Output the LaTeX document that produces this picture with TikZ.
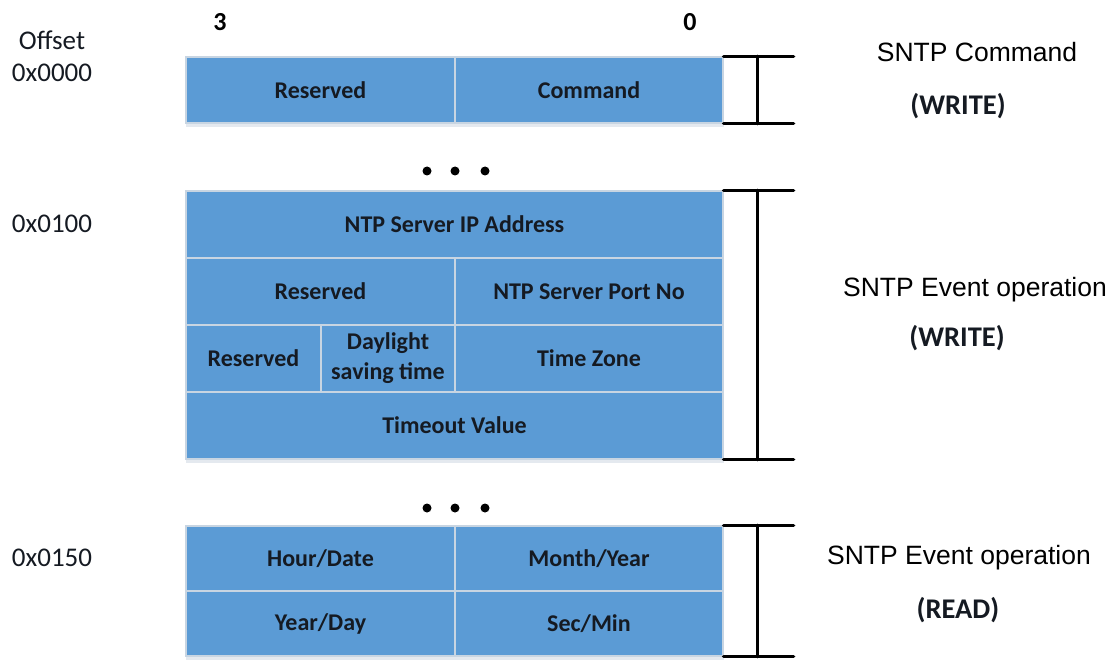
\documentclass[tikz,border=0pt]{standalone}
\usepackage{fontspec}
\setmainfont{Carlito}
\newfontfamily\arialfont{Liberation Sans}
\usepackage{tikz}
\usetikzlibrary{positioning}
\definecolor{regblue}{HTML}{5B9BD5}
\definecolor{regline}{HTML}{C8D5E2}
\definecolor{regshade}{HTML}{E4E9EF}
\definecolor{regtext}{HTML}{151A22}

\tikzset{
  regcell/.style={fill=regblue, draw=regline, line width=1.2pt, inner sep=0pt,
    minimum height=66pt, align=center, text=regtext,
    font=\bfseries\fontsize{24}{30}\selectfont},
  offs/.style={font=\fontsize{27}{29}\selectfont, text=regtext},
  bitno/.style={font=\bfseries\fontsize{26}{28}\selectfont, text=black},
  sidelbl/.style={font=\arialfont\fontsize{26.5}{29}\selectfont, text=black},
  sidemode/.style={font=\bfseries\fontsize{28.5}{30}\selectfont, text=regtext},
  bracket/.style={black, line width=3.5pt, line cap=round}
}

\begin{document}
\begin{tikzpicture}[x=1pt, y=-1pt]
\useasboundingbox (0,0) rectangle (1110,660);
% bit numbers and offsets
\node[bitno] (bit3) at (220,22) {3};
\node[bitno] (bit0) at (690,22) {0};
\node[offs] (offhead) at (52,40) {Offset};
\node[offs] (off0) at (52,73) {0x0000};
\node[offs] (off1) at (52,224) {0x0100};
\node[offs] (off2) at (52,558) {0x0150};
% faint shadows under the blocks
\fill[regshade] (186,60) rectangle (724,127);
\fill[regshade] (186,194) rectangle (724,463);
\fill[regshade] (186,529) rectangle (724,660);
% command register
\node[regcell, minimum width=269pt] (res0) at (320.5,90) {Reserved};
\node[regcell, minimum width=268pt] (cmd) at (589,90) {Command};
% event write registers
\node[regcell, minimum height=67pt, minimum width=537pt] (ipaddr) at (454.5,224.5) {NTP Server IP Address};
\node[regcell, minimum height=67pt, minimum width=269pt] (res1) at (320.5,291.5) {Reserved};
\node[regcell, minimum height=67pt, minimum width=268pt] (port) at (589,291.5) {NTP Server Port No};
\node[regcell, minimum height=67pt, minimum width=135pt] (res2) at (253.5,358.5) {Reserved};
\node[regcell, minimum height=67pt, minimum width=134pt] (dst) at (388,358.5) {Daylight\\saving time};
\node[regcell, minimum height=67pt, minimum width=268pt] (tzone) at (589,358.5) {Time Zone};
\node[regcell, minimum height=67pt, minimum width=537pt] (timeout) at (454.5,425.5) {Timeout Value};
% event read registers
\node[regcell, minimum height=65pt, minimum width=269pt] (hour) at (320.5,558.5) {Hour/Date};
\node[regcell, minimum height=65pt, minimum width=268pt] (month) at (589,558.5) {Month/Year};
\node[regcell, minimum height=65pt, minimum width=269pt] (yday) at (320.5,623.5) {Year/Day};
\node[regcell, minimum height=65pt, minimum width=268pt] (secmin) at (589,623.5) {Sec/Min};
% gaps
\foreach \dx in {427,455,485} {
  \fill (\dx,171) circle[radius=4.5pt];
  \fill (\dx,508) circle[radius=4.5pt];
}
% brackets
\draw[bracket] (cmd.north east) -- ++(70,0) (cmd.south east) -- ++(70,0)
  ([xshift=34pt]cmd.north east) -- ([xshift=34pt]cmd.south east);
\draw[bracket] (ipaddr.north east) -- ++(70,0) (timeout.south east) -- ++(70,0)
  ([xshift=34pt]ipaddr.north east) -- ([xshift=34pt]timeout.south east);
\draw[bracket] (month.north east) -- ++(70,0) (secmin.south east) -- ++(70,0)
  ([xshift=34pt]month.north east) -- ([xshift=34pt]secmin.south east);
% access labels
\node[sidelbl] (cmdlbl) at (977,52) {SNTP Command};
\node[sidemode] (cmdmode) at (958,106) {(WRITE)};
\node[sidelbl] (evwlbl) at (975,290) {SNTP Event operation};
\node[sidemode] (evwmode) at (957,338) {(WRITE)};
\node[sidelbl] (evrlbl) at (959,558) {SNTP Event operation};
\node[sidemode] (evrmode) at (958,610) {(READ)};
\end{tikzpicture}
\end{document}
